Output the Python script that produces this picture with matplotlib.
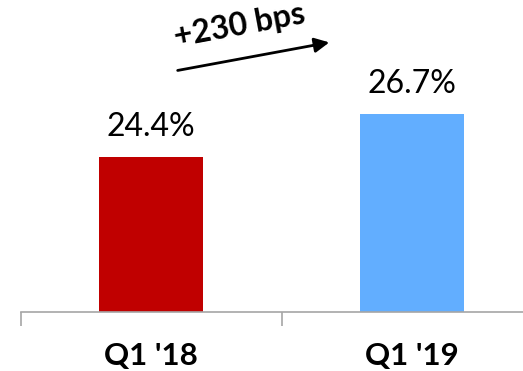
import matplotlib
matplotlib.use("Agg")
import matplotlib.pyplot as plt

categories = ["Q1 '18", "Q1 '19"]
values = [24.4, 26.7]
bar_colors = ["#C00000", "#62AEFF"]
change_label = "+230 bps"

plt.rcParams['font.family'] = ['Lato', 'DejaVu Sans']

fig = plt.figure(figsize=(5.23, 3.71), dpi=100)
ax = fig.add_axes([21 / 523, 59 / 371, 521 / 523, 312 / 371])

x = list(range(len(categories)))
ax.bar(x, values, width=0.40, color=bar_colors, bottom=0)
ax.set_xlim(-0.5, len(categories) - 0.5)
ax.set_ylim(16, 16 + 312 / 18.5)

for xi, v in zip(x, values):
    ax.text(xi, v + 0.8, f"{v:.1f}%", ha="center", va="bottom",
            fontsize=23, fontweight="normal", color="black")

# category ticks between bars, labels centred under bars
ax.set_xticks([i - 0.5 for i in range(len(categories) + 1)])
ax.set_xticklabels([])
ax.tick_params(axis="x", direction="out", length=10, width=1.2, color="#A6A6A6")
for xi, c in zip(x, categories):
    ax.text(xi, -0.14, c, transform=ax.get_xaxis_transform(), ha="center", va="center",
            fontsize=22.5, fontweight="bold", color="black")

ax.set_yticks([])
for s in ["top", "right", "left"]:
    ax.spines[s].set_visible(False)
ax.spines["bottom"].set_color("#A6A6A6")
ax.spines["bottom"].set_linewidth(1.2)

ax.annotate("", xy=(0.694, 30.6), xytext=(0.091, 29.03),
            arrowprops=dict(arrowstyle="-|>", color="black", lw=2.0, mutation_scale=22),
            annotation_clip=False)
ax.text(0.34, 31.5, change_label, ha="center", va="center", rotation=10.5,
        fontsize=23, fontweight="bold", color="black")

fig.savefig("out.png", dpi=100)
